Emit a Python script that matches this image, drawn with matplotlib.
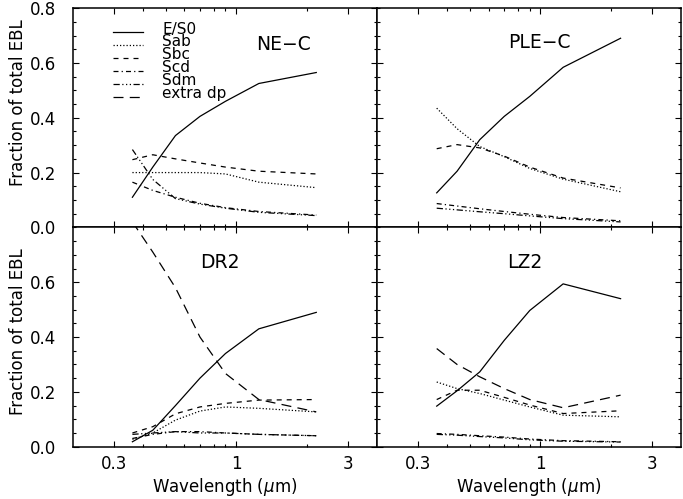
import matplotlib
matplotlib.use("Agg")
import matplotlib.pyplot as plt
from matplotlib.ticker import FixedLocator, MultipleLocator, NullFormatter

plt.rcParams['font.family'] = ['DejaVu Sans']
plt.rcParams['font.size'] = 12

# effective wavelengths of the bands (U B V R I J K), microns
wave = [0.36, 0.44, 0.55, 0.70, 0.90, 1.25, 2.2]

nec_es0 = [0.11, 0.22, 0.335, 0.405, 0.46, 0.525, 0.565]
nec_sab = [0.20, 0.20, 0.20, 0.20, 0.195, 0.165, 0.145]
nec_sbc = [0.247, 0.265, 0.25, 0.235, 0.22, 0.205, 0.195]
nec_scd = [0.165, 0.135, 0.11, 0.088, 0.072, 0.058, 0.045]
nec_sdm = [0.284, 0.175, 0.105, 0.085, 0.07, 0.055, 0.043]

ple_es0 = [0.126, 0.205, 0.32, 0.405, 0.478, 0.584, 0.69]
ple_sab = [0.435, 0.36, 0.295, 0.258, 0.215, 0.176, 0.13]
ple_sbc = [0.287, 0.302, 0.29, 0.26, 0.22, 0.18, 0.144]
ple_scd = [0.087, 0.078, 0.068, 0.058, 0.048, 0.036, 0.024]
ple_sdm = [0.07, 0.064, 0.057, 0.05, 0.042, 0.032, 0.02]

dr2_es0 = [0.018, 0.06, 0.15, 0.25, 0.34, 0.43, 0.49]
dr2_sab = [0.027, 0.05, 0.097, 0.13, 0.145, 0.14, 0.127]
dr2_sbc = [0.05, 0.073, 0.12, 0.145, 0.158, 0.17, 0.172]
dr2_scd = [0.03, 0.045, 0.055, 0.055, 0.05, 0.045, 0.04]
dr2_sdm = [0.045, 0.05, 0.055, 0.05, 0.05, 0.045, 0.04]
dr2_xdp = [0.82, 0.71, 0.58, 0.40, 0.267, 0.172, 0.127]

lz2_es0 = [0.148, 0.204, 0.273, 0.388, 0.497, 0.594, 0.54]
lz2_sab = [0.236, 0.212, 0.194, 0.17, 0.145, 0.115, 0.109]
lz2_sbc = [0.172, 0.206, 0.206, 0.18, 0.152, 0.121, 0.131]
lz2_scd = [0.048, 0.045, 0.04, 0.035, 0.028, 0.022, 0.018]
lz2_sdm = [0.045, 0.042, 0.037, 0.032, 0.025, 0.02, 0.017]
lz2_xdp = [0.358, 0.30, 0.255, 0.212, 0.172, 0.142, 0.188]

types = ['E/S0', 'Sab', 'Sbc', 'Scd', 'Sdm', 'extra dp']
styles = {
    'E/S0': '-',
    'Sab': (0, (1, 1.6)),
    'Sbc': (0, (4, 4)),
    'Scd': (0, (4, 2.5, 1, 2.5)),
    'Sdm': (0, (5, 2, 1, 2, 1, 2, 1, 2)),
    'extra dp': (0, (8, 5)),
}

panels = [
    ('NE−C', [nec_es0, nec_sab, nec_sbc, nec_scd, nec_sdm, None], (0.692, 0.832)),
    ('PLE−C', [ple_es0, ple_sab, ple_sbc, ple_scd, ple_sdm, None], (0.534, 0.841)),
    ('DR2', [dr2_es0, dr2_sab, dr2_sbc, dr2_scd, dr2_sdm, dr2_xdp], (0.485, 0.838)),
    ('LZ2', [lz2_es0, lz2_sab, lz2_sbc, lz2_scd, lz2_sdm, lz2_xdp], (0.485, 0.838)),
]

W, H = 683, 499
fig = plt.figure(figsize=(W / 100, H / 100), dpi=100)

x0, pw = 72.7, 304.3
ybot, ph = 446.7, 219.3
boxes = [
    (x0, ybot - ph), (x0 + pw, ybot - ph),
    (x0, ybot), (x0 + pw, ybot),
]

axes = []
for i, (name, series, lab) in enumerate(panels):
    left, bottom_px = boxes[i]
    ax = fig.add_axes([left / W, (H - bottom_px) / H, pw / W, ph / H])
    axes.append(ax)
    for t, vals in zip(types, series):
        if vals is None:
            continue
        ax.plot(wave, vals, color='black', lw=0.9, linestyle=styles[t])
    ax.set_xscale('log')
    ax.set_xlim(0.2, 4.0)
    ax.xaxis.set_major_locator(FixedLocator([0.3, 1, 3]))
    ax.xaxis.set_minor_locator(FixedLocator([0.4, 0.5, 0.6, 0.7, 0.8, 0.9, 2]))
    ax.xaxis.set_minor_formatter(NullFormatter())
    if i == 0:
        ax.set_yticks([0, 0.2, 0.4, 0.6, 0.8])
    else:
        ax.set_yticks([0, 0.2, 0.4, 0.6])
    ax.yaxis.set_minor_locator(MultipleLocator(0.05))
    ax.set_ylim(0, 0.8)
    ax.tick_params(which='both', direction='in', top=True, right=True, width=0.8)
    ax.tick_params(which='major', length=4.5)
    ax.tick_params(which='minor', length=2.5)
    ax.tick_params(axis='y', pad=12)
    ax.tick_params(axis='x', pad=6)
    for sp in ax.spines.values():
        sp.set_linewidth(1.1)
    ax.text(lab[0], lab[1], name, transform=ax.transAxes, ha='center', va='center',
            fontsize=13.5)

    if i < 2:
        ax.set_xticklabels([])
    else:
        ax.set_xticklabels(['0.3', '1', '3'])
        ax.set_xlabel('Wavelength ($\\mu$m)', labelpad=2)
    if i % 2 == 1:
        ax.set_yticklabels([])
    elif i == 0:
        ax.set_yticklabels(['0.0', '0.2', '0.4', '0.6', '0.8'])
    else:
        ax.set_yticklabels(['0.0', '0.2', '0.4', '0.6'])

# key in the first panel
ax = axes[0]
for k, t in enumerate(types):
    yk = 0.889 - 0.059 * k
    ax.plot([0.133, 0.231], [yk, yk], transform=ax.transAxes, color='black',
            lw=0.9, linestyle=styles[t])
    ax.text(0.294, yk - 0.005, t, transform=ax.transAxes, ha='left',
            va='baseline', fontsize=11)

for yc in (103, 332):
    fig.text(18 / W, 1 - yc / H, 'Fraction of total EBL', rotation=90,
             ha='center', va='center', fontsize=12)

plt.savefig('out.png', dpi=100)
